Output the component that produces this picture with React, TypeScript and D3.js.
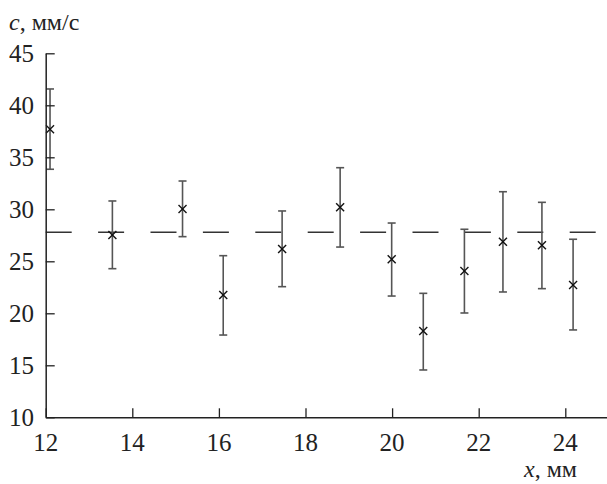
import React, { useEffect, useRef } from "react";
import * as d3 from "d3";

// measured points: position (mm), speed (mm/s) and error bar ends
const xs = [12.1, 13.54, 15.16, 16.1, 17.46, 18.8, 19.99, 20.72, 21.67, 22.56, 23.46, 24.18];
const cs = [37.7, 27.53, 30.03, 21.76, 26.18, 30.19, 25.19, 18.3, 24.07, 26.88, 26.54, 22.72];
const lows = [33.85, 24.29, 27.37, 17.91, 22.56, 26.37, 21.66, 14.55, 20.03, 22.05, 22.37, 18.4];
const highs = [41.57, 30.8, 32.72, 25.54, 29.84, 34.0, 28.68, 21.92, 28.08, 31.69, 30.67, 27.12];

// mean speed shown as dashed line
const meanC = 27.8;
const meanX = [12, 24.72];

const xTicks = [12, 14, 16, 18, 20, 22, 24];
const yTicks = [10, 15, 20, 25, 30, 35, 40, 45];

const App = () => {
  const chartRef = useRef<SVGSVGElement | null>(null);

  useEffect(() => {
    drawChart();
  }, []);

  const drawChart = () => {
    const width = 607;
    const height = 484;
    const font = "Liberation Serif, DejaVu Serif, serif";

    const svg = d3.select(chartRef.current);
    svg.selectAll("*").remove();
    svg.attr("width", width).attr("height", height);

    const x = d3.scaleLinear().domain([12, 25]).range([45.7, 608.6]);
    const y = d3.scaleLinear().domain([10, 45]).range([417.3, 53.3]);

    // dashed mean line
    svg
      .append("line")
      .attr("x1", x(meanX[0]))
      .attr("x2", x(meanX[1]))
      .attr("y1", y(meanC))
      .attr("y2", y(meanC))
      .attr("stroke", "#333")
      .attr("stroke-width", 1.4)
      .attr("stroke-dasharray", "26 26.4");

    // error bars
    const pts = xs.map((v, i) => ({ x: v, c: cs[i], lo: lows[i], hi: highs[i] }));
    const bars = svg.append("g").attr("stroke", "#555").attr("stroke-width", 1.6);
    pts.forEach((d) => {
      bars.append("line").attr("x1", x(d.x)).attr("x2", x(d.x)).attr("y1", y(d.lo)).attr("y2", y(d.hi));
      bars.append("line").attr("x1", x(d.x) - 4).attr("x2", x(d.x) + 4).attr("y1", y(d.lo)).attr("y2", y(d.lo));
      bars.append("line").attr("x1", x(d.x) - 4).attr("x2", x(d.x) + 4).attr("y1", y(d.hi)).attr("y2", y(d.hi));
    });

    // x markers
    const marks = svg.append("g").attr("stroke", "#111").attr("stroke-width", 1.4);
    pts.forEach((d) => {
      const px = x(d.x);
      const py = y(d.c);
      marks.append("line").attr("x1", px - 4).attr("x2", px + 4).attr("y1", py - 4).attr("y2", py + 4);
      marks.append("line").attr("x1", px - 4).attr("x2", px + 4).attr("y1", py + 4).attr("y2", py - 4);
    });

    // axes: ticks point inward
    const xAxis = svg
      .append("g")
      .attr("transform", `translate(0,${y(10)})`)
      .call(d3.axisTop(x).tickValues(xTicks).tickSize(9).tickFormat(() => "").tickSizeOuter(0));
    xAxis.select(".domain").attr("stroke", "#222").attr("stroke-width", 1.5);
    xAxis.selectAll(".tick line").attr("stroke", "#222").attr("stroke-width", 1.3);

    const yAxis = svg
      .append("g")
      .attr("transform", `translate(${x(12)},0)`)
      .call(d3.axisRight(y).tickValues(yTicks).tickSize(9).tickFormat(() => "").tickSizeOuter(0));
    yAxis.select(".domain").attr("stroke", "#222").attr("stroke-width", 1.5);
    yAxis.selectAll(".tick line").attr("stroke", "#222").attr("stroke-width", 1.3);

    // tick labels
    svg
      .append("g")
      .selectAll("text")
      .data(xTicks)
      .join("text")
      .attr("x", (d) => x(d))
      .attr("y", 451)
      .attr("text-anchor", "middle")
      .attr("font-family", font)
      .attr("font-size", 25)
      .attr("fill", "#222")
      .text((d) => d);

    svg
      .append("g")
      .selectAll("text")
      .data(yTicks)
      .join("text")
      .attr("x", 34)
      .attr("y", (d) => y(d) + 8.4)
      .attr("text-anchor", "end")
      .attr("font-family", font)
      .attr("font-size", 25)
      .attr("fill", "#222")
      .text((d) => d);

    // axis titles
    const yTitle = svg
      .append("text")
      .attr("x", 9)
      .attr("y", 30)
      .attr("font-family", font)
      .attr("font-size", 24)
      .attr("fill", "#222");
    yTitle.append("tspan").attr("font-style", "italic").text("c");
    yTitle.append("tspan").text(", мм/с");

    const xTitle = svg
      .append("text")
      .attr("x", 577)
      .attr("y", 477)
      .attr("text-anchor", "end")
      .attr("font-family", font)
      .attr("font-size", 24)
      .attr("fill", "#222");
    xTitle.append("tspan").attr("font-style", "italic").text("x");
    xTitle.append("tspan").text(", мм");
  };

  return (
    <svg
      ref={chartRef}
      style={{ position: "absolute", left: 0, top: 0, display: "block", background: "#fff" }}
    ></svg>
  );
};

export default App;
